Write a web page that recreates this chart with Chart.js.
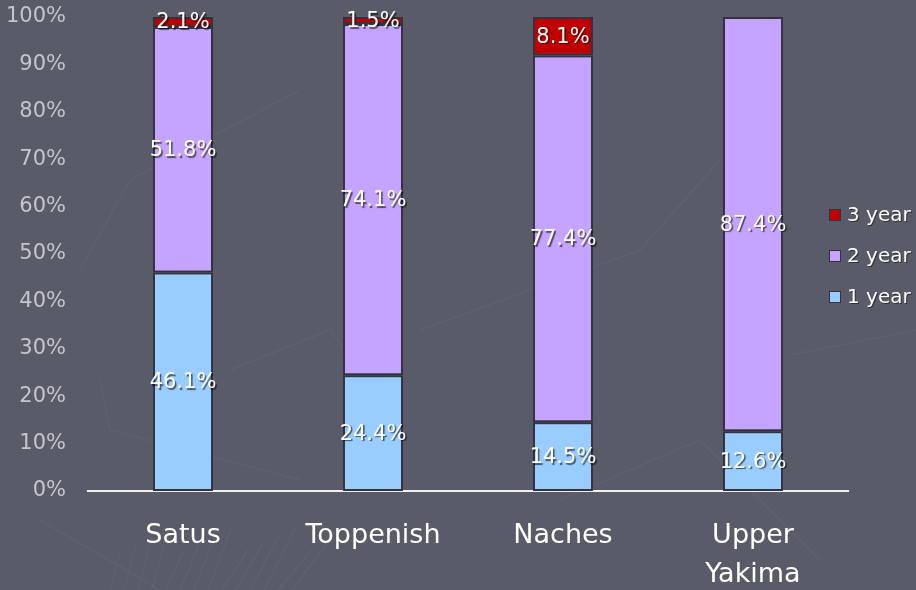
<!DOCTYPE html>
<html>
<head>
<meta charset="utf-8">
<script src="https://cdn.jsdelivr.net/npm/chart.js@4/dist/chart.umd.min.js"></script>
<style>
    html, body { margin: 0; padding: 0; background: #595b69; }
    #wrap { width: 916px; height: 590px; position: relative; }
</style>
</head>
<body>
<div id="wrap"><canvas id="ageChart"></canvas></div>
<script>
const sites = [['Satus'], ['Toppenish'], ['Naches'], ['Upper', 'Yakima']];
const oneYear = [46.1, 24.4, 14.5, 12.6];
const twoYear = [51.8, 74.1, 77.4, 87.4];
const threeYear = [2.1, 1.5, 8.1, 0];
const yTicks = [0, 10, 20, 30, 40, 50, 60, 70, 80, 90, 100];

const fontFace = "'DejaVu Sans', Verdana, sans-serif";

// slide background with a few faint decorative strokes
const backdrop = {
    id: 'backdrop',
    beforeDraw(chart) {
        const c = chart.ctx;
        c.save();
        c.fillStyle = '#595b69';
        c.fillRect(0, 0, chart.width, chart.height);
        c.strokeStyle = 'rgba(255,255,255,0.035)';
        c.lineWidth = 1.5;
        const strokes = [
            [[80, 270], [130, 180], [300, 90]],
            [[100, 380], [110, 430], [300, 480]],
            [[40, 520], [160, 590]],
            [[420, 330], [640, 250], [720, 160]],
            [[560, 500], [700, 440], [820, 560]],
            [[790, 355], [916, 330]],
            [[230, 370], [330, 330], [400, 420]]
        ];
        strokes.forEach(pts => {
            c.beginPath();
            c.moveTo(pts[0][0], pts[0][1]);
            pts.slice(1).forEach(p => c.lineTo(p[0], p[1]));
            c.stroke();
        });
        for (let i = 0; i < 14; i++) {
            c.beginPath();
            c.moveTo(110 + i * 14, 590);
            c.lineTo(120 + i * 16, 550 - (i % 4) * 8);
            c.stroke();
        }
        c.restore();
    }
};

// value labels centred in each segment
const segmentLabels = {
    id: 'segmentLabels',
    afterDatasetsDraw(chart) {
        const c = chart.ctx;
        c.save();
        c.font = '21px ' + fontFace;
        c.textAlign = 'center';
        c.textBaseline = 'middle';
        c.fillStyle = '#ffffff';
        c.shadowColor = 'rgba(0,0,0,0.6)';
        c.shadowOffsetX = 1.5;
        c.shadowOffsetY = 1.5;
        c.shadowBlur = 1;
        chart.data.datasets.forEach((ds, di) => {
            const meta = chart.getDatasetMeta(di);
            meta.data.forEach((bar, i) => {
                const v = ds.data[i];
                if (!v) return;
                const p = bar.getProps(['x', 'y', 'base'], true);
                c.fillText(v.toFixed(1) + '%', p.x, (p.y + p.base) / 2 + 1);
            });
        });
        c.restore();
    }
};

// legend drawn beside the last bar, top entry = top segment
const sideLegend = {
    id: 'sideLegend',
    afterDraw(chart) {
        const c = chart.ctx;
        const items = chart.data.datasets.slice().reverse();
        c.save();
        c.font = '20px ' + fontFace;
        c.textBaseline = 'middle';
        items.forEach((ds, i) => {
            const y = 215 + i * 41;
            c.fillStyle = ds.backgroundColor;
            c.fillRect(829, y - 6, 12, 12);
            c.strokeStyle = '#333340';
            c.lineWidth = 1;
            c.strokeRect(829.5, y - 5.5, 11, 11);
            c.fillStyle = '#ffffff';
            c.shadowColor = 'rgba(0,0,0,0.5)';
            c.shadowOffsetX = 1;
            c.shadowOffsetY = 1;
            c.fillText(ds.label, 847, y + 1);
            c.shadowColor = 'transparent';
        });
        c.restore();
    }
};

const ctx = document.getElementById('ageChart').getContext('2d');
new Chart(ctx, {
    type: 'bar',
    data: {
        labels: sites,
        datasets: [
            { label: '1 year', data: oneYear, backgroundColor: '#99ccff' },
            { label: '2 year', data: twoYear, backgroundColor: '#c4a4ff' },
            { label: '3 year', data: threeYear, backgroundColor: '#c00000' }
        ].map(ds => Object.assign(ds, {
            borderColor: '#333340',
            borderWidth: 2,
            borderSkipped: false,
            barPercentage: 0.316,
            categoryPercentage: 1.0
        }))
    },
    options: {
        responsive: true,
        maintainAspectRatio: false,
        animation: false,
        devicePixelRatio: 1,
        layout: { padding: { top: 0, right: 68, bottom: 0, left: 0 } },
        plugins: {
            legend: { display: false },
            tooltip: { enabled: false }
        },
        scales: {
            x: {
                stacked: true,
                grid: { display: false, drawTicks: false },
                border: { display: true, color: '#f0f0f0', width: 2 },
                ticks: {
                    color: '#ffffff',
                    font: { family: fontFace, size: 27, lineHeight: 1.42 },
                    padding: 26,
                    maxRotation: 0
                },
                afterFit(scale) { scale.height = 99; }
            },
            y: {
                stacked: true,
                min: 0,
                max: 100,
                afterBuildTicks(scale) { scale.ticks = yTicks.map(v => ({ value: v })); },
                grid: { display: false, drawTicks: false },
                border: { display: false },
                ticks: {
                    color: '#c4c5cd',
                    font: { family: fontFace, size: 21 },
                    padding: 22,
                    callback: v => v + '%'
                },
                afterFit(scale) {
                    scale.width = 88;
                    scale.paddingTop = 17;
                    scale.paddingBottom = 0;
                }
            }
        }
    },
    plugins: [backdrop, segmentLabels, sideLegend]
});
</script>
</body>
</html>
